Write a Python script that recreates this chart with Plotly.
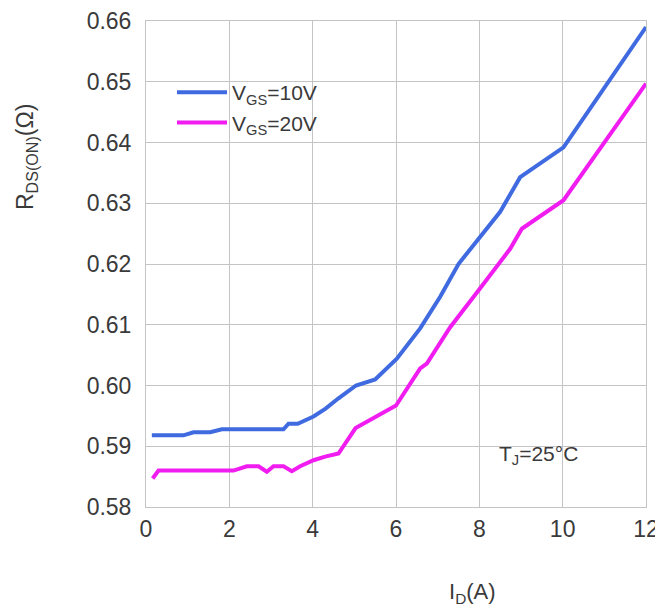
import plotly.graph_objects as go

# Data
id_10v = [0.14, 0.90, 1.14, 1.54, 1.82, 3.30, 3.42, 3.64, 4.02, 4.31, 4.62, 4.82, 5.04, 5.50, 6.02, 6.58, 7.06, 7.50, 7.94, 8.50, 8.98, 10.02, 12.0]
r_10v = [0.5918, 0.5918, 0.5923, 0.5923, 0.5928, 0.5928, 0.5937, 0.5937, 0.5949, 0.5962, 0.5979, 0.5989, 0.6000, 0.6010, 0.6044, 0.6094, 0.6146, 0.6200, 0.6239, 0.6286, 0.6343, 0.6392, 0.6590]

id_20v = [0.16, 0.30, 2.10, 2.42, 2.70, 2.90, 3.06, 3.30, 3.50, 3.70, 4.02, 4.30, 4.62, 5.03, 6.00, 6.58, 6.74, 7.30, 8.02, 8.74, 9.02, 10.02, 12.0]
r_20v = [0.5847, 0.5860, 0.5860, 0.5867, 0.5867, 0.5858, 0.5867, 0.5867, 0.5859, 0.5867, 0.5877, 0.5883, 0.5888, 0.5930, 0.5967, 0.6028, 0.6036, 0.6096, 0.6160, 0.6225, 0.6258, 0.6305, 0.6497]

series_names = ["V<sub>GS</sub>=10V", "V<sub>GS</sub>=20V"]
series_colors = ["#3f6ae0", "#f01cf0"]

x_ticks = [0, 2, 4, 6, 8, 10, 12]
y_ticks = [0.58, 0.59, 0.60, 0.61, 0.62, 0.63, 0.64, 0.65, 0.66]
y_tick_text = ["0.58", "0.59", "0.60", "0.61", "0.62", "0.63", "0.64", "0.65", "0.66"]

FONT = "Liberation Sans, Arial, sans-serif"
TXT = "#3a3a3a"
GRID = "#c4c4c4"

fig = go.Figure()
for xs, ys, name, col in [(id_10v, r_10v, series_names[0], series_colors[0]),
                          (id_20v, r_20v, series_names[1], series_colors[1])]:
    fig.add_trace(go.Scatter(x=xs, y=ys, mode="lines", name=name,
                             line=dict(color=col, width=4)))

# page body has an 8px default margin; size the figure so it fits the window
OFF = 8
PAGE_W, PAGE_H = 663, 610
W, H = PAGE_W - OFF, PAGE_H - OFF
PL, PR, PT, PB = 146, 646, 21, 507   # plot area in page pixels
L, T = PL - OFF, PT - OFF
R, B = PAGE_W - PR, PAGE_H - PB
pw, ph = PR - PL, PB - PT

def px(xp):
    return (xp - PL) / pw

def py(yp):
    return (PB - yp) / ph

fig.update_layout(
    width=W, height=H,
    margin=dict(l=L, r=R, t=T, b=B, pad=0, autoexpand=False),
    paper_bgcolor="white", plot_bgcolor="white",
    font=dict(family=FONT, size=22, color=TXT),
    showlegend=True,
    legend=dict(x=px(172), y=py(72), xanchor="left", yanchor="top",
                bgcolor="rgba(255,255,255,0)", borderwidth=0,
                font=dict(size=21, color=TXT), itemwidth=50,
                tracegroupgap=0),
    xaxis=dict(range=[0, 12], tickvals=x_ticks, showgrid=True, gridcolor=GRID,
               gridwidth=1, zeroline=False, showline=True, linecolor=GRID,
               linewidth=1, mirror=True, ticks="outside", ticklen=1,
               tickcolor="rgba(0,0,0,0)", tickfont=dict(size=23, color=TXT),
               automargin=False),
    yaxis=dict(range=[0.58, 0.66], tickvals=y_ticks, ticktext=y_tick_text,
               showgrid=True, gridcolor=GRID, gridwidth=1, zeroline=False,
               showline=True, linecolor=GRID, linewidth=1, mirror=True,
               ticks="outside", ticklen=9, tickcolor="rgba(0,0,0,0)",
               tickfont=dict(size=23, color=TXT), automargin=False),
    shapes=[
        dict(type="rect", xref="paper", yref="paper", x0=px(166), x1=px(353),
             y0=py(152), y1=py(70), fillcolor="white", line=dict(width=0),
             layer="between"),
        dict(type="rect", xref="paper", yref="paper", x0=px(440), x1=px(630),
             y0=py(476), y1=py(430), fillcolor="white", line=dict(width=0),
             layer="between"),
    ],
    annotations=[
        dict(text="T<sub>J</sub>=25°C", xref="paper", yref="paper",
             x=px(538), y=py(455), xanchor="center", yanchor="middle",
             showarrow=False, font=dict(size=21, color=TXT)),
        dict(text="I<sub>D</sub>(A)", xref="paper", yref="paper",
             x=px(472), y=py(593), xanchor="center", yanchor="middle",
             showarrow=False, font=dict(size=22, color=TXT)),
        dict(text="R<sub>DS(ON)</sub>(Ω)", xref="paper", yref="paper",
             x=px(27), y=py(157), xanchor="center", yanchor="middle",
             textangle=-90, showarrow=False, font=dict(size=23, color=TXT)),
    ],
)

fig.write_html("out.html")
